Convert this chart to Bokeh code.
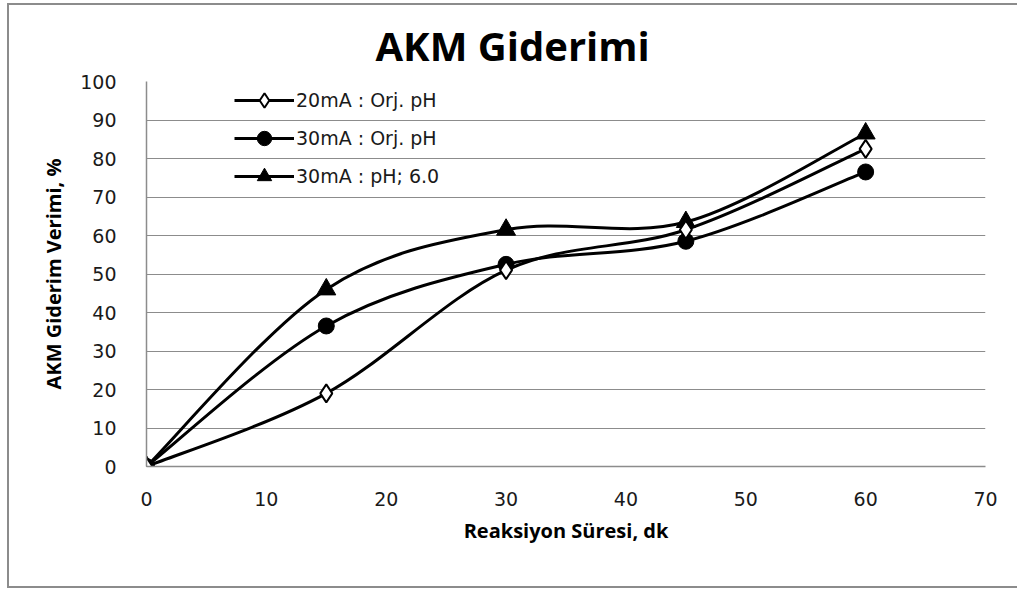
import numpy as np
from bokeh.plotting import figure
from bokeh.models import (ColumnDataSource, Legend, LegendItem, FixedTicker,
                          Range1d, InlineStyleSheet)
from bokeh.embed import file_html
from bokeh.resources import INLINE

# ---- data ----
times = [0, 15, 30, 45, 60]
s20_orj = [0, 19, 51, 61.5, 82.5]
s30_orj = [0, 36.5, 52.5, 58.5, 76.5]
s30_ph6 = [0, 46, 61.5, 63.5, 86.5]
labels = ["20mA : Orj. pH", "30mA : Orj. pH", "30mA : pH; 6.0"]
x_ticks = [0, 10, 20, 30, 40, 50, 60, 70]
y_ticks = [0, 10, 20, 30, 40, 50, 60, 70, 80, 90, 100]

W, H = 1017, 589
frame_css = InlineStyleSheet(css="""
:host { position: relative; }
:host::after {
  content: ""; position: absolute; left: 7px; top: 3px; right: 0px; bottom: 1px;
  border-left: 2px solid #8c8c8c; border-top: 2px solid #8c8c8c;
  border-bottom: 2px solid #8c8c8c; pointer-events: none; z-index: 100;
}
""")
p = figure(width=W, height=H, output_backend="svg", toolbar_location=None,
           x_range=Range1d(0, 70), y_range=Range1d(0, 100),
           min_border_left=146, min_border_right=32, min_border_top=81,
           min_border_bottom=123, stylesheets=[frame_css])
p.background_fill_color = "white"
p.border_fill_color = "white"
p.outline_line_color = None

p.title.text = "AKM Giderimi"
p.title.text_font = "Open Sans"
p.title.text_font_style = "bold"
p.title.text_font_size = "40px"
p.title.align = "left"
p.title.offset = 229
p.title.text_color = "black"
p.title.standoff = 17

for ax in (p.xaxis[0], p.yaxis[0]):
    ax.major_tick_line_color = None
    ax.minor_tick_line_color = None
    ax.axis_line_color = "#8c8c8c"
    ax.axis_line_width = 1.5
    ax.major_label_text_font = "DejaVu Sans"
    ax.major_label_text_font_size = "19px"
    ax.major_label_text_color = "#1a1a1a"
    ax.axis_label_text_font = "Open Sans"
    ax.axis_label_text_font_style = "bold"
    ax.axis_label_text_font_size = "20px"
    ax.axis_label_text_color = "black"

p.xaxis.ticker = FixedTicker(ticks=x_ticks)
p.yaxis.ticker = FixedTicker(ticks=y_ticks)
p.xaxis.axis_label = "Reaksiyon Süresi, dk"
p.yaxis.axis_label = "AKM Giderim Verimi, %"
p.xaxis.major_label_standoff = 19
p.yaxis.major_label_standoff = 24
p.xaxis.axis_label_standoff = 8
p.yaxis.axis_label_standoff = 10

p.xgrid.grid_line_color = None
p.ygrid.grid_line_color = "#8c8c8c"
p.ygrid.grid_line_width = 1.2


def smooth_segments(xs, ys):
    """Excel-like smoothed line: cubic Bezier segments through data points."""
    x = np.asarray(xs, float)
    y = np.asarray(ys, float)
    n = len(x)
    d = dict(x0=[], y0=[], x1=[], y1=[], cx0=[], cy0=[], cx1=[], cy1=[])
    for i in range(n - 1):
        ip = max(i - 1, 0)
        inn = min(i + 2, n - 1)
        d["x0"].append(x[i]); d["y0"].append(y[i])
        d["x1"].append(x[i + 1]); d["y1"].append(y[i + 1])
        d["cx0"].append(x[i] + (x[i + 1] - x[ip]) / 6)
        d["cy0"].append(y[i] + (y[i + 1] - y[ip]) / 6)
        d["cx1"].append(x[i + 1] - (x[inn] - x[i]) / 6)
        d["cy1"].append(y[i + 1] - (y[inn] - y[i]) / 6)
    return ColumnDataSource(d)


series = [s20_orj, s30_orj, s30_ph6]
for s in series:
    p.bezier(x0="x0", y0="y0", x1="x1", y1="y1", cx0="cx0", cy0="cy0",
             cx1="cx1", cy1="cy1", source=smooth_segments(times, s),
             line_color="black", line_width=3)

# markers
r_tri = p.scatter(times, s30_ph6, marker="triangle", size=19,
                  fill_color="black", line_color="black", line_width=1)
r_cir = p.scatter(times, s30_orj, marker="circle", size=16,
                  fill_color="black", line_color="black", line_width=1)
r_dia = p.scatter(times, s20_orj, marker="diamond", size=18,
                  fill_color="white", line_color="black", line_width=2)

# legend line samples: single-point lines (draw nothing in the plot)
leg_lines = [p.line(x=times[:1], y=s[:1], line_color="black", line_width=3)
             for s in series]
items = [
    LegendItem(label=labels[0], renderers=[leg_lines[0], r_dia]),
    LegendItem(label=labels[1], renderers=[leg_lines[1], r_cir]),
    LegendItem(label=labels[2], renderers=[leg_lines[2], r_tri]),
]
legend = Legend(items=items, location=(88, 272), orientation="vertical",
                background_fill_alpha=0, border_line_color=None,
                label_text_font="DejaVu Sans", label_text_font_size="19px",
                label_text_color="#1a1a1a", glyph_width=60, glyph_height=36,
                label_height=36, spacing=2, padding=0, margin=0,
                label_standoff=2)
p.add_layout(legend)

open("out.html", "w").write(file_html(p, INLINE))
